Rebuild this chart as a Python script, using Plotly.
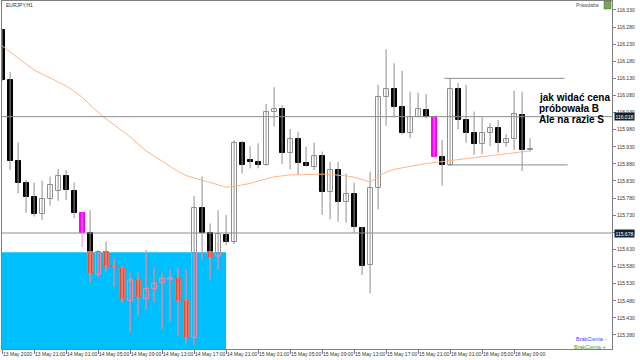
import plotly.graph_objects as go

# ---------------- data (EURJPY, H1) ----------------
open_p = [116.271, 116.125, 115.889, 115.825, 115.784, 115.734, 115.776, 115.802, 115.845, 115.802,
          115.737, 115.678, 115.557, 115.623, 115.581, 115.577, 115.481, 115.541, 115.486, 115.515,
          115.533, 115.543, 115.546, 115.480, 115.373, 115.752, 115.679, 115.611, 115.672, 115.653,
          115.940, 115.891, 115.885, 115.877, 116.031, 116.040, 115.911, 115.952, 115.882, 115.872,
          115.903, 115.799, 115.862, 115.769, 115.792, 115.693, 115.584, 115.809, 116.075, 116.098,
          116.045, 115.971, 116.018, 116.037, 116.018, 115.901, 115.877, 116.098, 116.008, 115.971,
          115.938, 115.969, 115.984, 115.942, 115.952, 116.023, 115.921]
high_p = [116.273, 116.149, 115.943, 115.833, 115.825, 115.831, 115.843, 115.865, 115.862, 115.826,
          115.737, 115.745, 115.628, 115.653, 115.604, 115.581, 115.562, 115.562, 115.628, 115.578,
          115.562, 115.572, 115.578, 115.572, 115.786, 115.843, 115.706, 115.745, 115.731, 115.950,
          115.947, 115.932, 115.940, 116.055, 116.104, 116.052, 115.982, 115.974, 115.930, 115.942,
          115.916, 115.886, 115.886, 115.852, 115.825, 115.695, 115.857, 116.111, 116.215, 116.174,
          116.152, 116.091, 116.088, 116.084, 116.018, 115.950, 116.130, 116.116, 116.111, 116.033,
          116.016, 115.999, 116.008, 115.967, 116.094, 116.091, 115.955]
low_p = [116.122, 115.862, 115.794, 115.737, 115.726, 115.716, 115.758, 115.772, 115.774, 115.721,
         115.637, 115.533, 115.549, 115.565, 115.521, 115.474, 115.387, 115.435, 115.453, 115.474,
         115.396, 115.419, 115.377, 115.355, 115.351, 115.601, 115.541, 115.570, 115.643, 115.646,
         115.852, 115.867, 115.867, 115.874, 115.989, 115.880, 115.864, 115.848, 115.872, 115.862,
         115.731, 115.718, 115.711, 115.708, 115.679, 115.555, 115.502, 115.747, 115.991, 116.016,
         115.966, 115.955, 116.016, 116.013, 115.901, 115.816, 115.874, 115.981, 115.942, 115.906,
         115.909, 115.932, 115.913, 115.930, 115.921, 115.859, 115.916]
close_p = [116.125, 115.889, 115.825, 115.782, 115.734, 115.776, 115.818, 115.845, 115.804, 115.736,
           115.678, 115.557, 115.623, 115.579, 115.578, 115.481, 115.541, 115.489, 115.516, 115.531,
           115.546, 115.547, 115.480, 115.372, 115.750, 115.679, 115.604, 115.675, 115.653, 115.940,
           115.877, 115.886, 115.877, 116.031, 116.040, 115.913, 115.952, 115.883, 115.874, 115.904,
           115.799, 115.862, 115.769, 115.791, 115.695, 115.581, 115.809, 116.075, 116.098, 116.047,
           115.971, 116.018, 116.040, 116.016, 115.901, 115.877, 116.098, 116.008, 115.971, 115.938,
           115.969, 115.984, 115.942, 115.952, 116.026, 115.921, 115.922]
ma_p = [116.225, 116.207, 116.190, 116.172, 116.154, 116.143, 116.131, 116.119, 116.108, 116.092,
        116.075, 116.052, 116.032, 116.011, 115.994, 115.976, 115.959, 115.938, 115.918, 115.903,
        115.888, 115.872, 115.858, 115.846, 115.839, 115.831, 115.824, 115.817, 115.812, 115.814,
        115.818, 115.823, 115.830, 115.836, 115.842, 115.845, 115.848, 115.848, 115.849, 115.850,
        115.850, 115.849, 115.848, 115.845, 115.841, 115.833, 115.827, 115.842, 115.856, 115.864,
        115.869, 115.874, 115.877, 115.881, 115.884, 115.887, 115.890, 115.893, 115.895, 115.898,
        115.901, 115.905, 115.908, 115.910, 115.912, 115.915, 115.918]
signal_bars = [10, 54]

x_tick_idx = [0, 4, 8, 12, 16, 20, 24, 28, 32, 36, 40, 44, 48, 52, 56, 60, 64]
x_tick_text = ["13 May 2020", "13 May 21:00", "14 May 01:00", "14 May 05:00", "14 May 09:00",
               "14 May 13:00", "14 May 17:00", "14 May 21:00", "15 May 01:00", "15 May 05:00",
               "15 May 09:00", "15 May 13:00", "15 May 17:00", "15 May 21:00", "18 May 01:00",
               "18 May 05:00", "18 May 09:00"]
y_tick_vals = [115.380, 115.430, 115.480, 115.530, 115.580, 115.630, 115.680, 115.730, 115.780, 115.830,
               115.880, 115.930, 115.980, 116.030, 116.080, 116.130, 116.180, 116.230, 116.280, 116.330]

h_levels = [116.018, 115.678]
zone_top = 115.622
zone_bars = [0, 28]
range_box_top = 116.130
range_box_bottom = 115.877
range_box_x = [55.3, 70.3]

note_lines = ["jak widać cena", "próbowała B", "Ale na razie S"]

# ---------------- styling ----------------
FONT = "Liberation Sans, Arial, sans-serif"
WICK = "#8f8f8f"
BW = 0.62
PINK = "#f58aa6"
ORANGE = "#ff4512"
CYAN = "#00bfff"
MAG = "#ff00ff"

n = len(open_p)
idx = list(range(n))
fig = go.Figure()

# wicks
wx, wy, mx, my = [], [], [], []
for k in idx:
    if k in signal_bars:
        mx += [k, k, None]; my += [low_p[k], high_p[k], None]
    else:
        wx += [k, k, None]; wy += [low_p[k], high_p[k], None]
fig.add_trace(go.Scatter(x=wx, y=wy, mode="lines", line=dict(color=WICK, width=1), hoverinfo="skip"))
fig.add_trace(go.Scatter(x=mx, y=my, mode="lines", line=dict(color="#ff80ff", width=1), hoverinfo="skip"))

# bodies
def body(k):
    lo = min(open_p[k], close_p[k]); hi = max(open_p[k], close_p[k])
    return lo, max(hi - lo, 0.0012)

groups = {"bull": ([], [], []), "bear": ([], [], []), "sig": ([], [], [])}
for k in idx:
    lo, h = body(k)
    g = "sig" if k in signal_bars else ("bull" if close_p[k] > open_p[k] else "bear")
    groups[g][0].append(k); groups[g][1].append(lo); groups[g][2].append(h)
styles = {"bull": ("#ffffff", WICK), "bear": ("#000000", "#000000"), "sig": (MAG, MAG)}
for g, (xs, bs, hs) in groups.items():
    fill, lc = styles[g]
    fig.add_trace(go.Bar(x=xs, y=hs, base=bs, width=BW,
                         marker=dict(color=fill, line=dict(color=lc, width=1)), hoverinfo="skip"))

# moving average
fig.add_trace(go.Scatter(x=idx, y=ma_p, mode="lines", line=dict(color="#ffb585", width=1), hoverinfo="skip"))

# re-colour what lies inside the cyan zone
owx, owy = [], []
bear_o = ([], [], [])
bull_o = ([], [], [])
bpx, bpy = [], []
for k in idx:
    if k > zone_bars[1] or low_p[k] >= zone_top:
        continue
    owx += [k, k, None]; owy += [low_p[k], min(high_p[k], zone_top), None]
    lo = min(open_p[k], close_p[k]); hi = max(open_p[k], close_p[k])
    if lo >= zone_top:
        continue
    top = min(hi, zone_top)
    if close_p[k] < open_p[k]:
        bear_o[0].append(k); bear_o[1].append(lo); bear_o[2].append(max(top - lo, 0.0012))
    else:
        bull_o[0].append(k); bull_o[1].append(lo); bull_o[2].append(max(top - lo, 0.0012))
        a, b = k - BW / 2, k + BW / 2
        if hi <= zone_top:
            bpx += [a, a, b, b, a, None]; bpy += [hi, lo, lo, hi, hi, None]
        else:
            bpx += [a, a, b, b, None]; bpy += [top, lo, lo, top, None]
fig.add_trace(go.Scatter(x=owx, y=owy, mode="lines", line=dict(color=PINK, width=1), hoverinfo="skip"))
fig.add_trace(go.Bar(x=bear_o[0], y=bear_o[2], base=bear_o[1], width=BW,
                     marker=dict(color=ORANGE, line=dict(color="#ff6a50", width=1)), hoverinfo="skip"))
fig.add_trace(go.Bar(x=bull_o[0], y=bull_o[2], base=bull_o[1], width=BW,
                     marker=dict(color=CYAN, line=dict(width=0)), hoverinfo="skip"))
fig.add_trace(go.Scatter(x=bpx, y=bpy, mode="lines", line=dict(color=PINK, width=1), hoverinfo="skip"))

# zone rectangle
fig.add_shape(type="rect", x0=zone_bars[0] - 1, x1=zone_bars[1], y0=115.0, y1=zone_top,
              fillcolor=CYAN, line_width=0, layer="below")
# horizontal levels
for lv in h_levels:
    fig.add_shape(type="line", xref="paper", x0=0, x1=1, y0=lv, y1=lv,
                  line=dict(color="#8c8c8c", width=1))
# range box lines
fig.add_shape(type="line", x0=range_box_x[0], x1=range_box_x[1], y0=range_box_top, y1=range_box_top,
              line=dict(color="#8c8c8c", width=1))
fig.add_shape(type="line", x0=range_box_x[0] + 0.4, x1=range_box_x[1] + 0.4, y0=range_box_bottom,
              y1=range_box_bottom, line=dict(color="#8c8c8c", width=1))

# pixel helpers for text placement
def fx(px):
    return (px - 2) / 610.0
def fy(py):
    return (349 - py) / 348.0

ann = []
ann.append(dict(x=fx(4), y=fy(5), xref="paper", yref="paper", text="EURJPY,H1", showarrow=False,
                xanchor="left", yanchor="middle", font=dict(family=FONT, size=5, color="#333333")))
ann.append(dict(x=fx(601), y=fy(5), xref="paper", yref="paper", text="Prawdaba", showarrow=False,
                xanchor="right", yanchor="middle", font=dict(family=FONT, size=5, color="#555555")))
ann.append(dict(x=fx(608), y=fy(339), xref="paper", yref="paper", text="BrakCienia -", showarrow=False,
                xanchor="right", yanchor="middle", font=dict(family=FONT, size=5.5, color="#4646ff")))
ann.append(dict(x=fx(608), y=fy(347), xref="paper", yref="paper", text="BrakCienia +", showarrow=False,
                xanchor="right", yanchor="middle", font=dict(family=FONT, size=5.5, color="#5a9e28")))
for i, line in enumerate(note_lines):
    ann.append(dict(x=fx(537), y=fy(97.5 + 11 * i), xref="paper", yref="paper", text="<b>%s</b>" % line,
                    showarrow=False, xanchor="left", yanchor="middle",
                    font=dict(family=FONT, size=10, color="#000000")))
for lv in h_levels:
    ann.append(dict(x=fx(614), y=lv, xref="paper", yref="y", text="%.3f" % lv, showarrow=False,
                    xanchor="left", yanchor="middle", bgcolor="#14232b", borderpad=0.5,
                    font=dict(family=FONT, size=5, color="#ffffff")))
fig.update_layout(annotations=ann)
fig.add_shape(type="rect", xref="paper", yref="paper", x0=fx(604), x1=fx(611), y0=fy(9), y1=fy(1),
              fillcolor="#7aa65a", line=dict(color="#4f6f3a", width=0.5))

fig.update_layout(
    width=640, height=360,
    margin=dict(l=2, r=28, t=1, b=11, pad=0, autoexpand=False),
    paper_bgcolor="#ffffff", plot_bgcolor="#ffffff",
    showlegend=False, barmode="overlay", bargap=0,
    font=dict(family=FONT),
    xaxis=dict(range=[-0.01, 76.24], tickmode="array", tickvals=x_tick_idx, ticktext=x_tick_text,
               ticks="outside", ticklen=4, tickcolor="#808080", tickwidth=1, tickangle=0,
               ticklabelposition="outside right", automargin=False,
               tickfont=dict(family=FONT, size=5, color="#333333"),
               showline=True, linecolor="#808080", linewidth=1, mirror=True,
               showgrid=False, zeroline=False, fixedrange=True),
    yaxis=dict(range=[115.339, 116.356], side="right", tickmode="array", tickvals=y_tick_vals,
               ticktext=["%.3f" % v for v in y_tick_vals], automargin=False,
               ticks="outside", ticklen=3, tickcolor="#808080", tickwidth=1,
               tickfont=dict(family=FONT, size=5, color="#333333"),
               showline=True, linecolor="#808080", linewidth=1, mirror=True,
               showgrid=False, zeroline=False, fixedrange=True),
)

fig.write_html("out.html", config={"displayModeBar": False},
               post_script="document.body.style.margin='0';document.body.style.padding='0';")
